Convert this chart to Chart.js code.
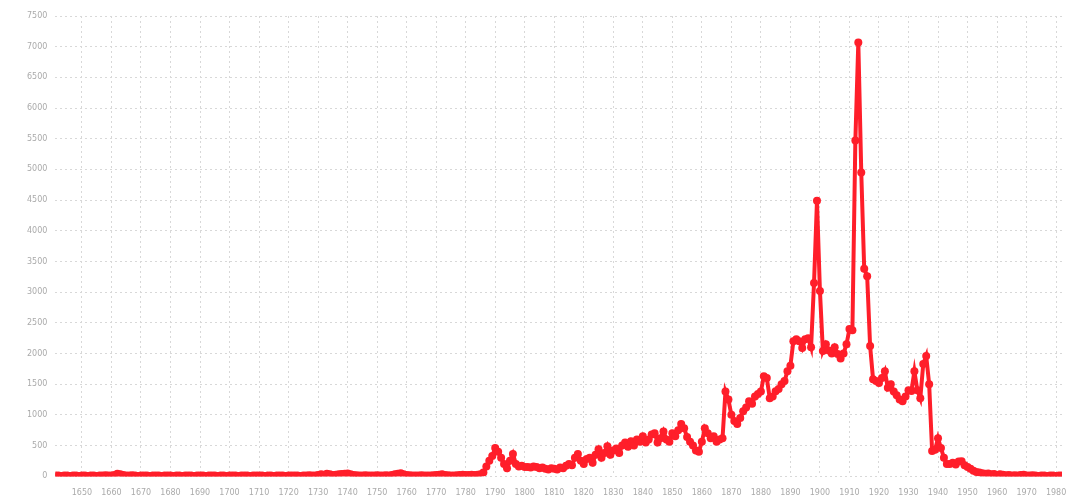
<!DOCTYPE html>
<html>
<head>
<meta charset="utf-8">
<script src="https://cdn.jsdelivr.net/npm/chart.js@4/dist/chart.umd.min.js"></script>
<style>
    html, body { margin: 0; padding: 0; background: #fff; overflow: hidden; }
    #wrap { width: 1072px; height: 504px; }
</style>
</head>
<body>
<div id="wrap"><canvas id="chart" width="1072" height="504"></canvas></div>
<script>
// one value per year, 1641 .. 1982
const firstYear = 1641;
const lastYear = 1982;

const values1641 = [10, 10, 5, 10, 10, 5, 10, 10, 5, 10];
const values1651 = [10, 5, 10, 10, 5, 10, 10, 15, 10, 10];
const values1661 = [20, 40, 30, 20, 10, 10, 15, 10, 5, 10];
const values1671 = [10, 10, 5, 10, 10, 10, 5, 10, 10, 10];
const values1681 = [5, 10, 10, 5, 10, 10, 10, 5, 10, 10];
const values1691 = [10, 5, 10, 10, 10, 5, 10, 10, 5, 10];
const values1701 = [10, 10, 5, 10, 10, 10, 5, 10, 10, 10];
const values1711 = [10, 5, 10, 10, 5, 10, 10, 10, 5, 10];
const values1721 = [10, 10, 10, 5, 10, 10, 15, 10, 10, 20];
const values1731 = [30, 25, 40, 30, 20, 25, 30, 35, 40, 45];
const values1741 = [30, 20, 15, 10, 10, 15, 10, 10, 10, 15];
const values1751 = [10, 10, 15, 10, 20, 30, 40, 50, 30, 20];
const values1761 = [15, 10, 10, 10, 15, 10, 10, 10, 15, 20];
const values1771 = [25, 30, 20, 15, 10, 10, 15, 20, 25, 20];
const values1781 = [20, 25, 20, 25, 30, 60, 160, 250, 330, 460];
const values1791 = [400, 300, 200, 130, 250, 360, 200, 160, 170, 150];
const values1801 = [150, 140, 160, 150, 130, 140, 120, 110, 130, 120];
const values1811 = [110, 140, 130, 170, 200, 180, 300, 360, 250, 200];
const values1821 = [280, 300, 220, 350, 440, 300, 380, 490, 350, 420];
const values1831 = [450, 380, 500, 550, 480, 570, 500, 600, 560, 650];
const values1841 = [550, 600, 680, 700, 550, 620, 730, 600, 560, 700];
const values1851 = [650, 750, 850, 780, 640, 560, 500, 420, 400, 560];
const values1861 = [780, 700, 620, 650, 560, 600, 620, 1380, 1250, 1000];
const values1871 = [900, 850, 950, 1060, 1120, 1220, 1180, 1300, 1340, 1380];
const values1881 = [1630, 1600, 1270, 1300, 1385, 1420, 1500, 1550, 1710, 1800];
const values1891 = [2200, 2230, 2200, 2090, 2230, 2250, 2100, 3150, 4490, 3020];
const values1901 = [2040, 2150, 2050, 2000, 2100, 1990, 1920, 2000, 2150, 2400];
const values1911 = [2380, 5470, 7070, 4950, 3380, 3260, 2120, 1580, 1550, 1520];
const values1921 = [1600, 1710, 1440, 1500, 1380, 1320, 1250, 1220, 1300, 1400];
const values1931 = [1390, 1710, 1400, 1270, 1830, 1960, 1500, 410, 430, 620];
const values1941 = [460, 300, 200, 200, 220, 190, 240, 245, 180, 150];
const values1951 = [120, 90, 70, 60, 50, 40, 45, 30, 35, 20];
const values1961 = [30, 25, 15, 20, 10, 15, 10, 20, 25, 10];
const values1971 = [10, 15, 10, 5, 10, 10, 5, 10, 10, 5];
const values1981 = [10, 10];

const seriesValues = [].concat(
    values1641, values1651, values1661, values1671, values1681, values1691,
    values1701, values1711, values1721, values1731, values1741, values1751,
    values1761, values1771, values1781, values1791, values1801, values1811,
    values1821, values1831, values1841, values1851, values1861, values1871,
    values1881, values1891, values1901, values1911, values1921, values1931,
    values1941, values1951, values1961, values1971, values1981
);

const yTicks = [0, 500, 1000, 1500, 2000, 2500, 3000, 3500, 4000, 4500, 5000, 5500, 6000, 6500, 7000, 7500];
const xTicks = [1650, 1660, 1670, 1680, 1690, 1700, 1710, 1720, 1730, 1740, 1750, 1760,
    1770, 1780, 1790, 1800, 1810, 1820, 1830, 1840, 1850, 1860, 1870, 1880, 1890,
    1900, 1910, 1920, 1930, 1940, 1950, 1960, 1970, 1980];

const points = seriesValues.map((v, i) => ({ x: firstYear + i, y: v }));

const red = '#ff1e2a';
const gridColor = '#d8d8d8';

new Chart(document.getElementById('chart').getContext('2d'), {
    type: 'line',
    data: {
        datasets: [{
            data: points,
            borderColor: red,
            backgroundColor: red,
            borderWidth: 4,
            pointRadius: 4,
            pointBorderWidth: 0,
            pointBackgroundColor: red,
            tension: 0,
            fill: false
        }]
    },
    options: {
        responsive: false,
        animation: false,
        layout: { padding: { left: 19, right: 10, top: 16, bottom: -5 } },
        plugins: {
            legend: { display: false },
            tooltip: { enabled: false }
        },
        scales: {
            x: {
                type: 'linear',
                min: firstYear,
                max: lastYear,
                afterBuildTicks: function(scale) {
                    scale.ticks = xTicks.map(v => ({ value: v }));
                },
                afterFit: function(scale) {
                    // don't reserve extra room for the last label
                    scale.paddingRight = 0;
                },
                ticks: {
                    autoSkip: false,
                    color: '#aaa',
                    font: { family: 'DejaVu Sans', size: 8, lineHeight: 0.6 },
                    padding: 14,
                    maxRotation: 0,
                    callback: v => String(v)
                },
                grid: { color: gridColor, drawTicks: false, lineWidth: 1 },
                border: { display: false, dash: [2, 3] }
            },
            y: {
                min: 0,
                max: 7500,
                afterBuildTicks: function(scale) {
                    scale.ticks = yTicks.map(v => ({ value: v }));
                },
                ticks: {
                    color: '#aaa',
                    font: { family: 'DejaVu Sans', size: 8 },
                    padding: 8,
                    callback: v => String(v)
                },
                grid: { color: gridColor, drawTicks: false, lineWidth: 1 },
                border: { display: false, dash: [2, 3] }
            }
        }
    }
});
</script>
</body>
</html>
